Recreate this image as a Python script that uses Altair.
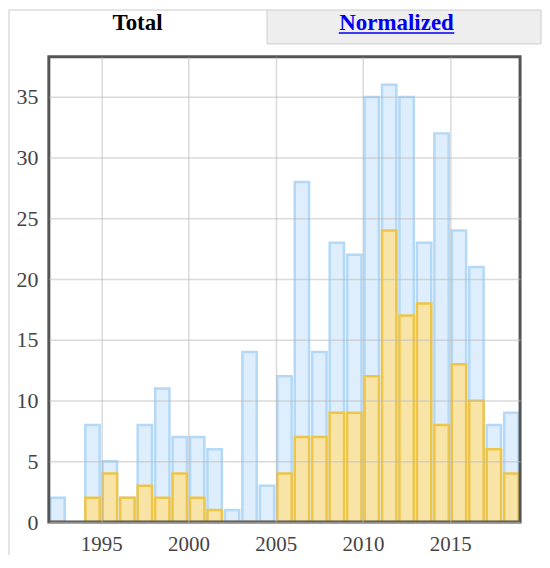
import altair as alt
import pandas as pd

# Data
years = [1992, 1994, 1995, 1996, 1997, 1998, 1999, 2000, 2001, 2002, 2003, 2004,
         2005, 2006, 2007, 2008, 2009, 2010, 2011, 2012, 2013, 2014, 2015, 2016, 2017, 2018]
total = [2, 8, 5, 2, 8, 11, 7, 7, 6, 1, 14, 3,
         12, 28, 14, 23, 22, 35, 36, 35, 23, 32, 24, 21, 8, 9]
subset = [0, 2, 4, 2, 3, 2, 4, 2, 1, 0, 0, 0,
          4, 7, 7, 9, 9, 12, 24, 17, 18, 8, 13, 10, 6, 4]
x_ticks = [1995, 2000, 2005, 2010, 2015]
y_ticks = [0, 5, 10, 15, 20, 25, 30, 35]
tab_labels = ["Total", "Normalized"]

df = pd.DataFrame({"year": years, "total": total, "subset": subset})

FONT = "Liberation Serif"
W, H = 473, 467

xscale = alt.Scale(domain=[1992, 2019], nice=False, zero=False)
yscale = alt.Scale(domain=[0, 38.3], nice=False)

base = alt.Chart(df).transform_calculate(
    x0="datum.year + 0.09", x1="datum.year + 0.91"
)

blue = base.mark_bar(
    fill="#deeefc", stroke="#b3d9f7", strokeWidth=2.5
).encode(
    x=alt.X("x0:Q", scale=xscale,
            axis=alt.Axis(values=x_ticks, format="d", title=None, ticks=False,
                          domain=False, labelFont=FONT, labelFontSize=21,
                          labelColor="#444", labelPadding=12, zindex=1,
                          gridColor="#bbbbbb", gridOpacity=0.55, gridWidth=1.5)),
    x2="x1:Q",
    y=alt.Y("total:Q", scale=yscale,
            axis=alt.Axis(values=y_ticks, title=None, ticks=False, domain=False,
                          labelFont=FONT, labelFontSize=22, labelColor="#444",
                          labelPadding=11, zindex=1,
                          gridColor="#bbbbbb", gridOpacity=0.55, gridWidth=1.5)),
    y2=alt.datum(0),
)

yellow = base.mark_bar(
    fill="#f9e4a8", stroke="#eec547", strokeWidth=2.5
).encode(
    x=alt.X("x0:Q", scale=xscale),
    x2="x1:Q",
    y=alt.Y("subset:Q", scale=yscale),
    y2=alt.datum(0),
)

one = alt.Data(values=[{}])

frame = alt.Chart(one).mark_rect(
    fillOpacity=0, stroke="#555555", strokeWidth=3
).encode(
    x=alt.value(0), x2=alt.value(W), y=alt.value(0), y2=alt.value(H)
)

left_line = alt.Chart(one).mark_rule(color="#cccccc", strokeWidth=1).encode(
    x=alt.value(-40), y=alt.value(-47), y2=alt.value(500)
)
top_line = alt.Chart(one).mark_rule(color="#cccccc", strokeWidth=1).encode(
    x=alt.value(-40), x2=alt.value(219), y=alt.value(-47)
)
norm_tab = alt.Chart(one).mark_rect(
    fill="#eeeeee", stroke="#cccccc", strokeWidth=1
).encode(
    x=alt.value(219), x2=alt.value(494), y=alt.value(-47), y2=alt.value(-13)
)
total_text = alt.Chart(one).mark_text(
    text=tab_labels[0], font=FONT, fontSize=23, fontWeight="bold",
    color="#000000", align="center", baseline="alphabetic"
).encode(x=alt.value(89), y=alt.value(-27))
norm_text = alt.Chart(one).mark_text(
    text=tab_labels[1], font=FONT, fontSize=23, fontWeight="bold",
    color="#0000ee", align="center", baseline="alphabetic"
).encode(x=alt.value(349), y=alt.value(-27))
underline = alt.Chart(one).mark_rule(color="#0000ee", strokeWidth=1.5).encode(
    x=alt.value(291), x2=alt.value(407), y=alt.value(-24)
)

chart = alt.layer(
    left_line, top_line, norm_tab, total_text, norm_text, underline,
    blue, yellow, frame
).properties(
    width=W, height=H, padding=0
).configure_view(
    strokeWidth=0
)

chart.save("out.html", embed_options={"renderer": "svg", "actions": False})
